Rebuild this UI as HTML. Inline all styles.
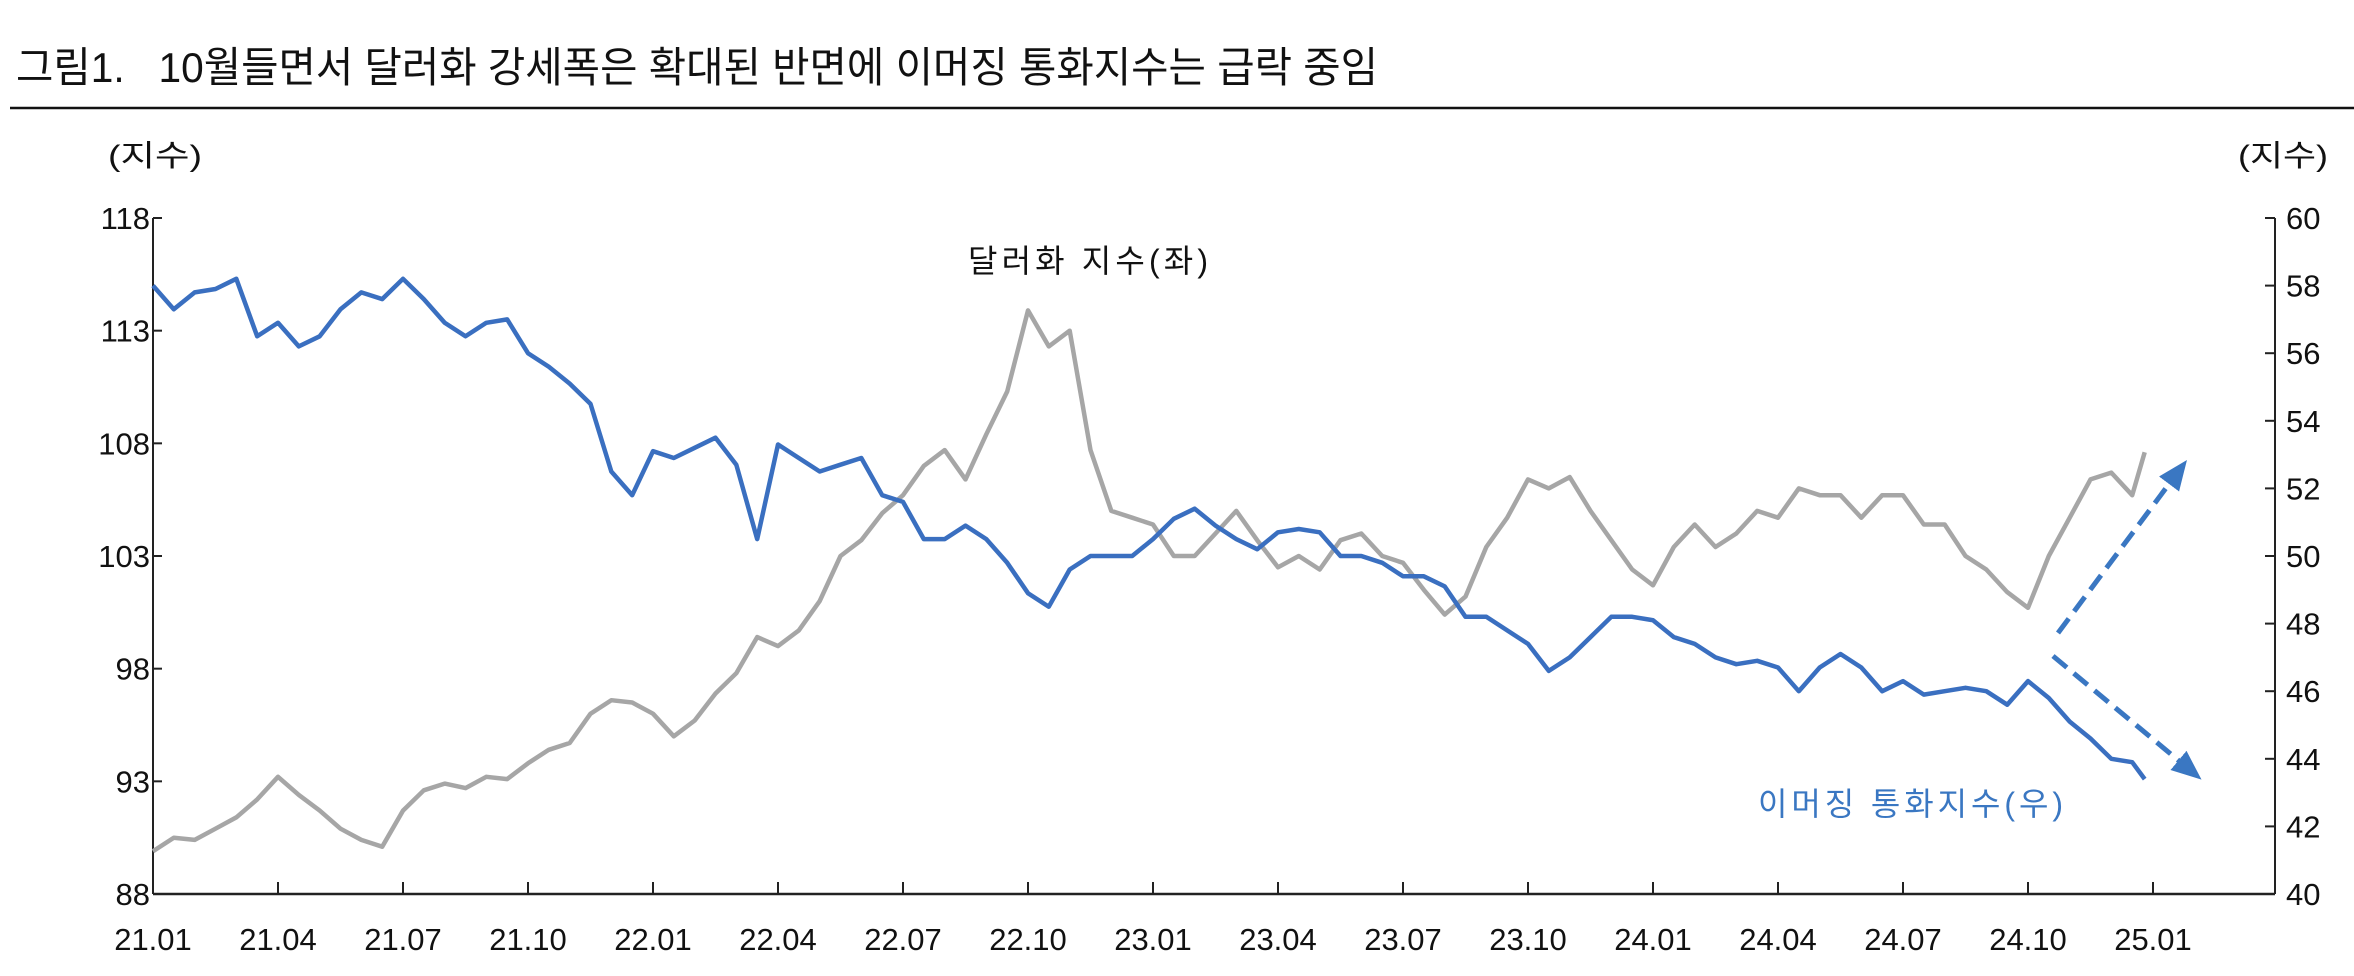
<!DOCTYPE html>
<html><head><meta charset="utf-8"><style>
html,body{margin:0;padding:0;background:#fff;width:2354px;height:976px;overflow:hidden}
svg{display:block}
text{font-family:"Liberation Sans","Noto Sans CJK KR",sans-serif}
</style></head><body>
<svg id="chart" width="2354" height="976" viewBox="0 0 2354 976" xmlns="http://www.w3.org/2000/svg">
<text x="16" y="82" font-size="42" fill="#111" textLength="1362" lengthAdjust="spacingAndGlyphs" xml:space="preserve">그림1.   10월들면서 달러화 강세폭은 확대된 반면에 이머징 통화지수는 급락 중임</text>
<line x1="10" y1="108" x2="2354" y2="108" stroke="#111" stroke-width="2.5"/>
<text x="108" y="166" font-size="30" fill="#111" textLength="94" lengthAdjust="spacingAndGlyphs">(지수)</text>
<text x="2238" y="166" font-size="30" fill="#111" textLength="90" lengthAdjust="spacingAndGlyphs">(지수)</text>
<g id="axes"></g>
<g id="series"></g>
<text x="968" y="272" font-size="32" fill="#111" textLength="240" lengthAdjust="spacing">달러화 지수(좌)</text>
<text x="1758" y="815" font-size="32" fill="#3a77c2" textLength="305" lengthAdjust="spacing">이머징 통화지수(우)</text>
<defs><marker id="ah" markerWidth="6" markerHeight="6" refX="3" refY="3" orient="auto" markerUnits="strokeWidth"><path d="M0,0.5 L6,3 L0,5.5 Z" fill="#3a77c2"/></marker></defs>
<line x1="2058" y1="633" x2="2178" y2="472" stroke="#3a77c2" stroke-width="5" stroke-dasharray="18,9" marker-end="url(#ah)"/>
<line x1="2053" y1="656" x2="2190" y2="770" stroke="#3a77c2" stroke-width="5" stroke-dasharray="18,9" marker-end="url(#ah)"/>
</svg>
<script>
const xLabels=["21.01","21.04","21.07","21.10","22.01","22.04","22.07","22.10","23.01","23.04","23.07","23.10","24.01","24.04","24.07","24.10","25.01"];
const leftTicks=[88,93,98,103,108,113,118];
const rightTicks=[40,42,44,46,48,50,52,54,56,58,60];
const months=[0,0.5,1,1.5,2,2.5,3,3.5,4,4.5,5,5.5,6,6.5,7,7.5,8,8.5,9,9.5,10,10.5,11,11.5,12,12.5,13,13.5,14,14.5,15,15.5,16,16.5,17,17.5,18,18.5,19,19.5,20,20.5,21,21.5,22,22.5,23,23.5,24,24.5,25,25.5,26,26.5,27,27.5,28,28.5,29,29.5,30,30.5,31,31.5,32,32.5,33,33.5,34,34.5,35,35.5,36,36.5,37,37.5,38,38.5,39,39.5,40,40.5,41,41.5,42,42.5,43,43.5,44,44.5,45,45.5,46,46.5,47,47.5,47.8];
const dollar=[89.9,90.5,90.4,90.9,91.4,92.2,93.2,92.4,91.7,90.9,90.4,90.1,91.7,92.6,92.9,92.7,93.2,93.1,93.8,94.4,94.7,96.0,96.6,96.5,96.0,95.0,95.7,96.9,97.8,99.4,99.0,99.7,101.0,103.0,103.7,104.9,105.7,107.0,107.7,106.4,108.4,110.3,113.9,112.3,113.0,107.7,105.0,104.7,104.4,103.0,103.0,104.0,105.0,103.7,102.5,103.0,102.4,103.7,104.0,103.0,102.7,101.5,100.4,101.2,103.4,104.7,106.4,106.0,106.5,105.0,103.7,102.4,101.7,103.4,104.4,103.4,104.0,105.0,104.7,106.0,105.7,105.7,104.7,105.7,105.7,104.4,104.4,103.0,102.4,101.4,100.7,103.0,104.7,106.4,106.7,105.7,107.6];
const emIndex=[58.0,57.3,57.8,57.9,58.2,56.5,56.9,56.2,56.5,57.3,57.8,57.6,58.2,57.6,56.9,56.5,56.9,57.0,56.0,55.6,55.1,54.5,52.5,51.8,53.1,52.9,53.2,53.5,52.7,50.5,53.3,52.9,52.5,52.7,52.9,51.8,51.6,50.5,50.5,50.9,50.5,49.8,48.9,48.5,49.6,50.0,50.0,50.0,50.5,51.1,51.4,50.9,50.5,50.2,50.7,50.8,50.7,50.0,50.0,49.8,49.4,49.4,49.1,48.2,48.2,47.8,47.4,46.6,47.0,47.6,48.2,48.2,48.1,47.6,47.4,47.0,46.8,46.9,46.7,46.0,46.7,47.1,46.7,46.0,46.3,45.9,46.0,46.1,46.0,45.6,46.3,45.8,45.1,44.6,44.0,43.9,43.4];

const X0=153,XR=2275,PXM=125/3,YT=218,YB=894;
const xs=m=>X0+m*PXM;
const yL=v=>YT+(118-v)/30*(YB-YT);
const yR=v=>YT+(60-v)/20*(YB-YT);
const NS="http://www.w3.org/2000/svg";
const ax=document.getElementById('axes'),sr=document.getElementById('series');
function mk(tag,attrs,parent){const e=document.createElementNS(NS,tag);for(const k in attrs)e.setAttribute(k,attrs[k]);parent.appendChild(e);return e;}
let e;
e=mk('line',{x1:X0,y1:YT,x2:X0,y2:YB,stroke:'#222','stroke-width':2},ax);


e=mk('line',{x1:XR,y1:YT,x2:XR,y2:YB,stroke:'#222','stroke-width':2},ax);


e=mk('line',{x1:X0,y1:YB,x2:XR,y2:YB,stroke:'#222','stroke-width':2.5},ax);


leftTicks.forEach(v=>{const y=yL(v);
 e=mk('line',{x1:X0,y1:y,x2:X0+9,y2:y,stroke:'#222','stroke-width':2},ax);
 
 
 e=mk('text',{x:150,y:y+11,'font-size':31,'text-anchor':'end',fill:'#111'},ax);e.textContent=v;
 
 
});
rightTicks.forEach(v=>{const y=yR(v);
 e=mk('line',{x1:XR-10,y1:y,x2:XR,y2:y,stroke:'#222','stroke-width':2},ax);
 
 
 e=mk('text',{x:2286,y:y+11,'font-size':31,fill:'#111'},ax);e.textContent=v;
 
 
});
xLabels.forEach((t,i)=>{const x=xs(i*3);
 e=mk('line',{x1:x,y1:YB-12,x2:x,y2:YB,stroke:'#222','stroke-width':2},ax);
 
 
 e=mk('text',{x:x,y:950,'font-size':31,'text-anchor':'middle',fill:'#111'},ax);e.textContent=t;
 
 
});
function path(vals,yf){return vals.map((v,i)=>(i?'L':'M')+xs(months[i]).toFixed(1)+','+yf(v).toFixed(1)).join(' ');}
e=mk('path',{d:path(dollar,yL),fill:'none',stroke:'#a6a6a6','stroke-width':4.5,'stroke-linejoin':'round'},sr);


e=mk('path',{d:path(emIndex,yR),fill:'none',stroke:'#3a6fc0','stroke-width':4.5,'stroke-linejoin':'round'},sr);


</script>
</body></html>
